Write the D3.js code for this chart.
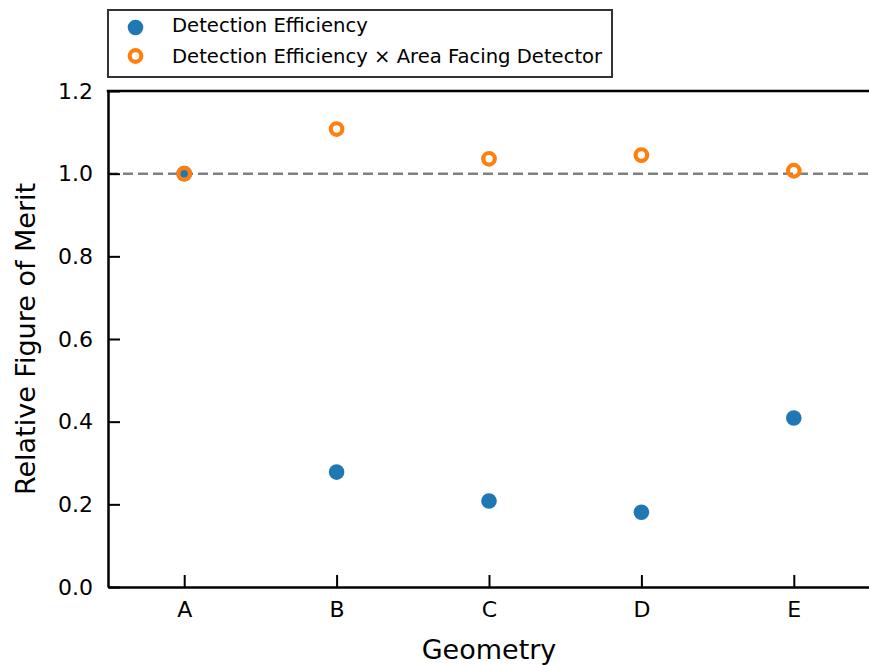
<!DOCTYPE html>
<html>
<head>
<meta charset="utf-8">
<script src="https://cdn.jsdelivr.net/npm/d3@7"></script>
<style>
  body { margin: 0; background: #fff; }
  svg text { font-family: "DejaVu Sans", sans-serif; }
</style>
</head>
<body>
<div class="chart"></div>
<script>
const geometries = ["A", "B", "C", "D", "E"];
const efficiency = [1.0, 0.278, 0.208, 0.181, 0.409];
const efficiencyArea = [1.0, 1.108, 1.036, 1.045, 1.007];
const yTicks = [0.0, 0.2, 0.4, 0.6, 0.8, 1.0, 1.2];
const seriesNames = ["Detection Efficiency", "Detection Efficiency \u00d7 Area Facing Detector"];

const width = 869;
const height = 665;
const margin = {top: 91, right: -1, bottom: 78, left: 108};

const blue = "#1f77b4";
const orange = "#ff7f0e";

const svg = d3.select(".chart")
    .append("svg")
    .attr("width", width)
    .attr("height", height);

// index scale so categories sit at 0..4 with half a step of padding
const x = d3.scaleLinear()
    .domain([-0.5, geometries.length - 0.5])
    .range([margin.left, width - margin.right]);

const y = d3.scaleLinear()
    .domain([0, 1.2])
    .range([height - margin.bottom, margin.top]);

// reference line at 1.0
svg.append("line")
    .attr("x1", x(-0.5))
    .attr("x2", x(geometries.length - 0.5))
    .attr("y1", y(1))
    .attr("y2", y(1))
    .attr("stroke", "#808080")
    .attr("stroke-width", 2.5)
    .attr("stroke-dasharray", "10,5");

// x axis, ticks pointing in
const xAxis = svg.append("g")
    .attr("transform", `translate(0, ${y(0)})`)
    .call(d3.axisBottom(x)
        .tickValues(d3.range(geometries.length))
        .tickFormat(i => geometries[i])
        .tickSizeInner(-12)
        .tickSizeOuter(0)
        .tickPadding(14));

xAxis.select(".domain").attr("stroke", "#000").attr("stroke-width", 2.5);
xAxis.selectAll(".tick line").attr("stroke-width", 2);
xAxis.selectAll("text")
    .style("font-size", "22px")
    .attr("fill", "#000");

const yAxis = svg.append("g")
    .attr("transform", `translate(${margin.left}, 0)`)
    .call(d3.axisLeft(y)
        .tickValues(yTicks)
        .tickFormat(d3.format(".1f"))
        .tickSizeInner(-12)
        .tickSizeOuter(0)
        .tickPadding(15));

yAxis.select(".domain").attr("stroke", "#000").attr("stroke-width", 2.5);
yAxis.selectAll(".tick line").attr("stroke-width", 2);
yAxis.selectAll("text")
    .style("font-size", "22px")
    .attr("fill", "#000");

// top spine
svg.append("line")
    .attr("x1", margin.left - 1.25)
    .attr("x2", width)
    .attr("y1", y(1.2))
    .attr("y2", y(1.2))
    .attr("stroke", "#000")
    .attr("stroke-width", 2.5);

// blue points
svg.append("g")
    .selectAll("circle")
    .data(efficiency)
    .enter()
    .append("circle")
    .attr("cx", (d, i) => x(i))
    .attr("cy", d => y(d))
    .attr("r", 7.8)
    .attr("fill", blue);

// orange hollow points
svg.append("g")
    .selectAll("circle")
    .data(efficiencyArea)
    .enter()
    .append("circle")
    .attr("cx", (d, i) => x(i))
    .attr("cy", d => y(d))
    .attr("r", 5.8)
    .attr("fill", "none")
    .attr("stroke", orange)
    .attr("stroke-width", 4.2);

// axis labels
svg.append("text")
    .attr("x", (x(-0.5) + x(geometries.length - 0.5)) / 2)
    .attr("y", 659)
    .attr("text-anchor", "middle")
    .style("font-size", "27px")
    .text("Geometry");

svg.append("text")
    .attr("transform", `translate(35, ${(y(0) + y(1.2)) / 2}) rotate(-90)`)
    .attr("text-anchor", "middle")
    .style("font-size", "27px")
    .text("Relative Figure of Merit");

// legend
const legend = svg.append("g");
legend.append("rect")
    .attr("x", 108)
    .attr("y", 10)
    .attr("width", 504)
    .attr("height", 67)
    .attr("fill", "#fff")
    .attr("stroke", "#333")
    .attr("stroke-width", 2);

legend.append("circle")
    .attr("cx", 135.5)
    .attr("cy", 27.5)
    .attr("r", 7.8)
    .attr("fill", blue);

legend.append("circle")
    .attr("cx", 135.5)
    .attr("cy", 56)
    .attr("r", 5.8)
    .attr("fill", "none")
    .attr("stroke", orange)
    .attr("stroke-width", 4.2);

legend.selectAll("text.lbl")
    .data(seriesNames)
    .enter()
    .append("text")
    .attr("class", "lbl")
    .attr("x", 172)
    .attr("y", (d, i) => 32 + i * 31)
    .style("font-size", "19.6px")
    .text(d => d);
</script>
</body>
</html>
